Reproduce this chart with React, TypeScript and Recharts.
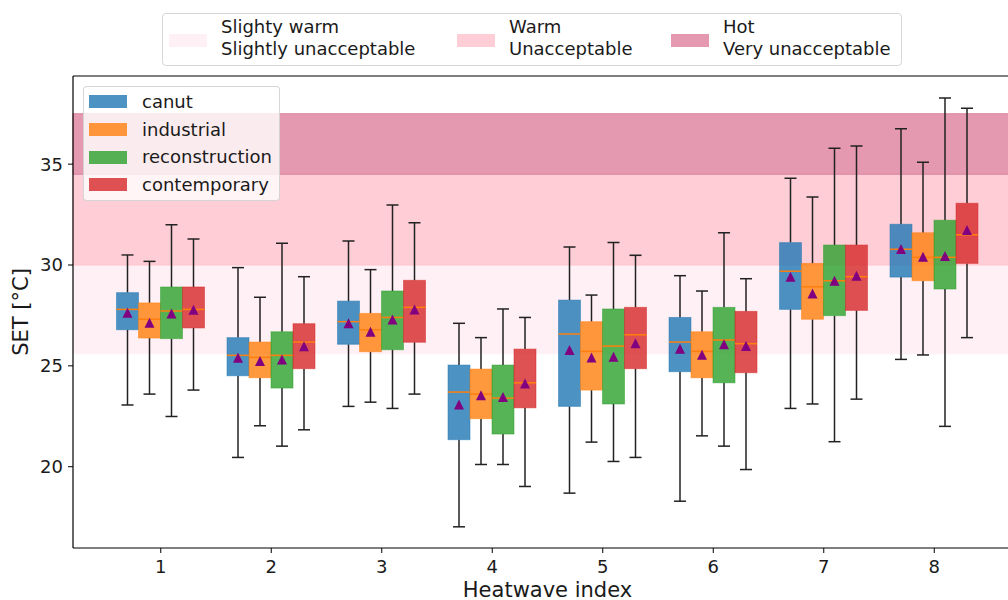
import React from "react";
import {
  ComposedChart,
  Bar,
  XAxis,
  YAxis,
  ReferenceArea,
  ReferenceLine,
} from "recharts";

// heatwave indices on the x axis
const CATEGORIES = ["1", "2", "3", "4", "5", "6", "7", "8"];

// each tuple: [lower whisker, q1, median, q3, upper whisker, mean]
const CANUT = [
  [23.06, 26.79, 27.8, 28.63, 30.5, 27.63],
  [20.46, 24.51, 25.52, 26.4, 29.87, 25.4],
  [22.99, 26.07, 27.19, 28.21, 31.19, 27.11],
  [17.02, 21.34, 23.7, 25.04, 27.11, 23.09],
  [18.69, 22.99, 26.58, 28.26, 30.89, 25.78],
  [18.29, 24.71, 26.18, 27.4, 29.47, 25.85],
  [22.89, 27.8, 29.69, 31.11, 34.3, 29.42],
  [25.32, 29.4, 30.78, 32.02, 36.76, 30.79],
];
const INDUSTRIAL = [
  [23.6, 26.38, 27.31, 28.12, 30.18, 27.14],
  [22.03, 24.41, 25.42, 26.18, 28.4, 25.24],
  [23.2, 25.7, 26.79, 27.6, 29.77, 26.69],
  [20.11, 22.38, 23.6, 24.84, 26.4, 23.54],
  [21.22, 23.8, 25.72, 27.19, 28.51, 25.42],
  [21.53, 24.41, 25.72, 26.69, 28.71, 25.55],
  [23.11, 27.31, 28.92, 30.08, 33.37, 28.59],
  [25.54, 29.22, 30.38, 31.6, 35.09, 30.41],
];
const RECONSTRUCTION = [
  [22.49, 26.35, 27.72, 28.91, 32.0, 27.6],
  [21.02, 23.9, 25.52, 26.69, 31.08, 25.32],
  [22.89, 25.8, 27.4, 28.71, 32.98, 27.3],
  [20.11, 21.62, 23.4, 25.04, 27.82, 23.45],
  [20.26, 23.11, 25.98, 27.82, 31.11, 25.45],
  [21.02, 24.16, 26.28, 27.9, 31.6, 26.07],
  [21.24, 27.49, 29.22, 30.99, 35.79, 29.22],
  [22.0, 28.81, 30.38, 32.22, 38.28, 30.45],
];
const CONTEMPORARY = [
  [23.8, 26.88, 27.8, 28.91, 31.29, 27.78],
  [21.83, 24.86, 26.18, 27.09, 29.42, 25.97],
  [23.6, 26.17, 27.9, 29.24, 32.1, 27.8],
  [19.02, 22.92, 24.16, 25.83, 27.4, 24.13],
  [20.46, 24.86, 26.54, 27.9, 30.48, 26.12],
  [19.86, 24.66, 26.1, 27.7, 29.32, 25.98],
  [23.35, 27.75, 29.42, 30.99, 35.9, 29.47],
  [26.4, 30.08, 31.5, 33.06, 37.77, 31.74],
];

// comfort bands (SET thresholds)
const BAND_LIMITS = [25.6, 30, 34.5, 37.5];
const BAND_LABELS = [
  ["Slighty warm", "Slightly unacceptable"],
  ["Warm", "Unacceptable"],
  ["Hot", "Very unacceptable"],
];
const BAND_COLORS = ["#fff0f5", "#ffcdd6", "#e499b1"];
const BAND_EDGES = ["#fff0f5", "#ffc3ce", "#dc86a2"];

const Y_TICKS = [20, 25, 30, 35];
const Y_DOMAIN: [number, number] = [15.97, 39.37];

const SERIES = [
  { key: "canut", label: "canut", color: "#1f77b4" },
  { key: "industrial", label: "industrial", color: "#ff7f0e" },
  { key: "reconstruction", label: "reconstruction", color: "#2ca02c" },
  { key: "contemporary", label: "contemporary", color: "#d62728" },
];

const data = CATEGORIES.map((c, i) => ({
  hw: c,
  canut: CANUT[i],
  industrial: INDUSTRIAL[i],
  reconstruction: RECONSTRUCTION[i],
  contemporary: CONTEMPORARY[i],
}));

const FONT = "'DejaVu Sans', sans-serif";
const TEXT = "#1a1a1a";

// bar spans [low whisker, high whisker]; inner stats mapped linearly inside it
const makeBoxShape = (key: string, color: string) => (p: any) => {
  const s = p.payload?.[key];
  if (!s) return <g />;
  const [lo, q1, med, q3, hi, mean] = s;
  const top = Math.min(p.y, p.y + p.height);
  const h = Math.abs(p.height);
  const py = (v: number) => top + (h * (hi - v)) / (hi - lo);
  const cx = p.x + p.width / 2;
  const cap = 6;
  const my = py(mean);
  const t = 5;
  return (
    <g>
      <line x1={cx} x2={cx} y1={py(hi)} y2={py(q3)} stroke="#222" strokeWidth={1.5} />
      <line x1={cx} x2={cx} y1={py(q1)} y2={py(lo)} stroke="#222" strokeWidth={1.5} />
      <line x1={cx - cap} x2={cx + cap} y1={py(hi)} y2={py(hi)} stroke="#222" strokeWidth={1.5} />
      <line x1={cx - cap} x2={cx + cap} y1={py(lo)} y2={py(lo)} stroke="#222" strokeWidth={1.5} />
      <rect
        x={p.x}
        y={py(q3)}
        width={p.width}
        height={py(q1) - py(q3)}
        fill={color}
        fillOpacity={0.8}
        stroke={color}
        strokeOpacity={0.5}
        strokeWidth={1}
      />
      <line x1={p.x} x2={p.x + p.width} y1={py(med)} y2={py(med)} stroke="#ff7f0e" strokeWidth={1.5} />
      <polygon
        points={`${cx},${my - t} ${cx - t},${my + t} ${cx + t},${my + t}`}
        fill="#800080"
      />
    </g>
  );
};

const yLabel = () => (
  <text
    x={21}
    y={312}
    transform="rotate(-90 21 312)"
    textAnchor="middle"
    dominantBaseline="central"
    fontSize={21}
    fill={TEXT}
    fontFamily={FONT}
  >
    SET [°C]
  </text>
);

function SeriesLegend() {
  return (
    <div
      style={{
        position: "absolute",
        left: 83,
        top: 86,
        width: 197,
        height: 115,
        background: "rgba(255,255,255,0.8)",
        border: "1px solid rgba(204,204,204,0.8)",
        borderRadius: 4,
        boxSizing: "border-box",
        paddingTop: 1,
      }}
    >
      {SERIES.map((s) => (
        <div key={s.key} style={{ display: "flex", alignItems: "center", height: 27.7 }}>
          <div
            style={{
              marginLeft: 5,
              width: 38,
              height: 13,
              background: s.color,
              opacity: 0.8,
            }}
          />
          <span style={{ marginLeft: 15, fontSize: 18, color: TEXT, lineHeight: "20px" }}>
            {s.label}
          </span>
        </div>
      ))}
    </div>
  );
}

const BAND_ENTRY_X = [6, 294, 508];

function BandLegend() {
  return (
    <div
      style={{
        position: "absolute",
        left: 162,
        top: 13,
        width: 740,
        height: 53,
        background: "#fff",
        border: "1px solid #d6d6d6",
        borderRadius: 4,
        boxSizing: "border-box",
      }}
    >
      {BAND_LABELS.map((lines, i) => (
        <div key={i} style={{ position: "absolute", left: BAND_ENTRY_X[i], top: 0 }}>
          <div
            style={{
              position: "absolute",
              left: 0,
              top: 20,
              width: 38,
              height: 13,
              background: BAND_COLORS[i],
            }}
          />
          <div
            style={{
              position: "absolute",
              left: 52,
              top: 2,
              whiteSpace: "nowrap",
              fontSize: 18,
              lineHeight: "21.7px",
              color: TEXT,
            }}
          >
            {lines[0]}
            <br />
            {lines[1]}
          </div>
        </div>
      ))}
    </div>
  );
}

export default function App() {
  return (
    <div
      style={{
        position: "fixed",
        left: 0,
        top: 0,
        width: 1008,
        height: 600,
        overflow: "hidden",
        background: "#fff",
        fontFamily: FONT,
      }}
    >
      <ComposedChart
        width={1032}
        height={600}
        data={data}
        margin={{ top: 76, right: 10, bottom: 0, left: 0 }}
        barGap={0}
        barSize={22}
      >
        {/* unpadded helper axis so the bands span the whole plot width */}
        <XAxis xAxisId="full" type="number" domain={[0, 1]} allowDataOverflow hide />
        <XAxis
          dataKey="hw"
          height={52}
          interval={0}
          padding={{ left: 32.5, right: 32.5 }}
          tickSize={5}
          tickMargin={7}
          tick={{ fill: TEXT, fontSize: 18, fontFamily: FONT }}
          tickLine={{ stroke: "#000" }}
          axisLine={{ stroke: "#000", strokeWidth: 1.2 }}
          label={{
            value: "Heatwave index",
            position: "insideBottom",
            offset: 3,
            fontSize: 21,
            fill: TEXT,
            fontFamily: FONT,
          }}
        />
        <YAxis
          type="number"
          domain={Y_DOMAIN}
          allowDataOverflow
          ticks={Y_TICKS}
          width={73}
          tickSize={5}
          tickMargin={5}
          tick={{ fill: TEXT, fontSize: 18, fontFamily: FONT }}
          tickLine={{ stroke: "#000" }}
          axisLine={{ stroke: "#000", strokeWidth: 1.2 }}
          label={yLabel}
        />
        {BAND_COLORS.map((c, i) => (
          <ReferenceArea
            key={i}
            xAxisId="full"
            y1={BAND_LIMITS[i]}
            y2={BAND_LIMITS[i + 1]}
            fill={c}
            fillOpacity={1}
            stroke={BAND_EDGES[i]}
            strokeWidth={1}
          />
        ))}
        <ReferenceLine xAxisId="full" y={Y_DOMAIN[1]} stroke="#000" strokeWidth={1.2} />
        {SERIES.map((s) => (
          <Bar
            key={s.key}
            dataKey={(d: any) => [d[s.key][0], d[s.key][4]]}
            shape={makeBoxShape(s.key, s.color)}
            isAnimationActive={false}
          />
        ))}
      </ComposedChart>
      <SeriesLegend />
      <BandLegend />
    </div>
  );
}
